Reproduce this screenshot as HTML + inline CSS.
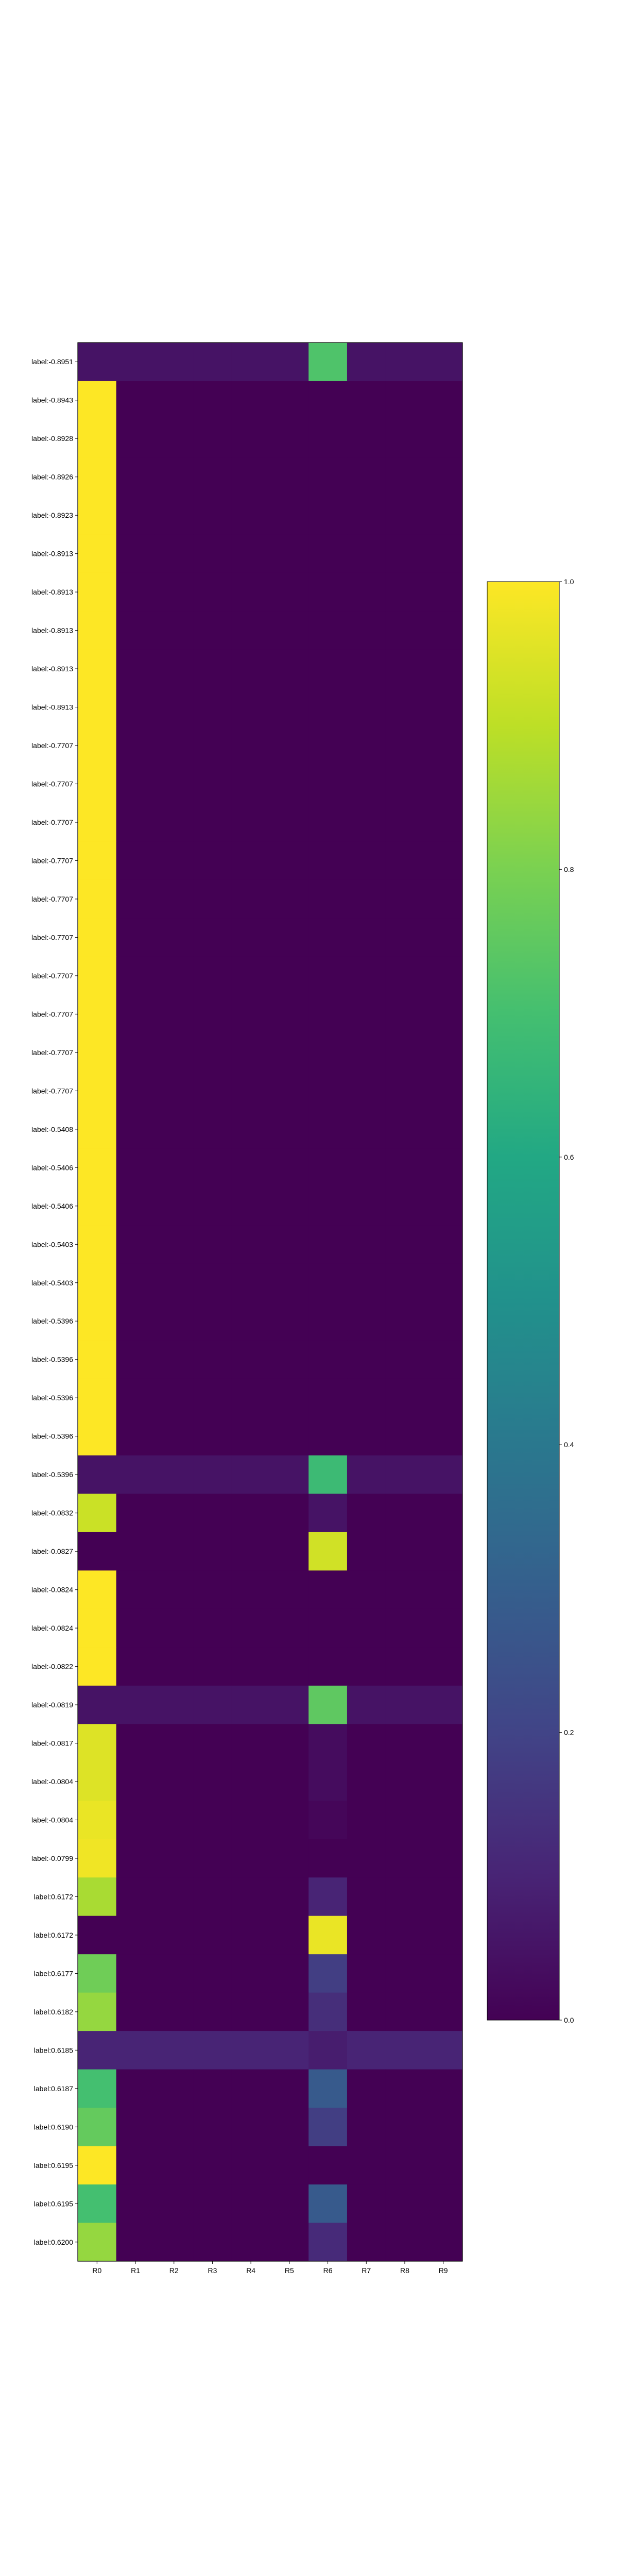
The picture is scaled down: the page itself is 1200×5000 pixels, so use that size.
<!DOCTYPE html>
<html><head><meta charset="utf-8"><style>body{margin:0;background:#fff}svg{display:block}text{font-family:"Liberation Sans","DejaVu Sans",sans-serif;font-size:14px;fill:#000}</style></head>
<body>
<svg id="chart" width="1200" height="5000" viewBox="0 0 1200 5000" xmlns="http://www.w3.org/2000/svg"></svg>
<script>
const rowLabels=["label:-0.8951","label:-0.8943","label:-0.8928","label:-0.8926","label:-0.8923","label:-0.8913","label:-0.8913","label:-0.8913","label:-0.8913","label:-0.8913",
"label:-0.7707","label:-0.7707","label:-0.7707","label:-0.7707","label:-0.7707","label:-0.7707","label:-0.7707","label:-0.7707","label:-0.7707","label:-0.7707",
"label:-0.5408","label:-0.5406","label:-0.5406","label:-0.5403","label:-0.5403","label:-0.5396","label:-0.5396","label:-0.5396","label:-0.5396","label:-0.5396",
"label:-0.0832","label:-0.0827","label:-0.0824","label:-0.0824","label:-0.0822","label:-0.0819","label:-0.0817","label:-0.0804","label:-0.0804","label:-0.0799",
"label:0.6172","label:0.6172","label:0.6177","label:0.6182","label:0.6185","label:0.6187","label:0.6190","label:0.6195","label:0.6195","label:0.6200"];
const colLabels=["R0","R1","R2","R3","R4","R5","R6","R7","R8","R9"];
const colorbarTicks=[0.0,0.2,0.4,0.6,0.8,1.0];
// per-row: R0 value, R6 value, value of the other columns
const r0Values=[0.05,1,1,1,1,1,1,1,1,1, 1,1,1,1,1,1,1,1,1,1, 1,1,1,1,1,1,1,1,1,0.05,
0.92,0,1,1,1,0.05,0.95,0.95,0.97,0.98, 0.87,0,0.78,0.84,0.1,0.7,0.76,1,0.7,0.84];
const r6Values=[0.72,0,0,0,0,0,0,0,0,0, 0,0,0,0,0,0,0,0,0,0, 0,0,0,0,0,0,0,0,0,0.68,
0.05,0.93,0,0,0,0.75,0.03,0.03,0.015,0, 0.1,0.97,0.18,0.13,0.08,0.28,0.18,0,0.28,0.12];
const restValues=[0.05,0,0,0,0,0,0,0,0,0, 0,0,0,0,0,0,0,0,0,0, 0,0,0,0,0,0,0,0,0,0.05,
0,0,0,0,0,0.05,0,0,0,0, 0,0,0,0,0.1,0,0,0,0,0];

const VIR=[[68,1,84],[72,36,117],[65,68,135],[53,95,141],[42,120,142],[33,145,140],[34,168,132],[68,191,112],[122,209,81],[189,223,38],[253,231,37]];
function viridis(v){v=Math.max(0,Math.min(1,v));const p=v*10,i=Math.min(9,Math.floor(p)),f=p-i;const a=VIR[i],b=VIR[i+1];
return `rgb(${a.map((c,k)=>Math.round(c+(b[k]-c)*f)).join(',')})`;}
const svg=document.getElementById('chart');const NS='http://www.w3.org/2000/svg';
function mk(t,at,p){const e=document.createElementNS(NS,t);for(const k in at)e.setAttribute(k,at[k]);(p||svg).appendChild(e);return e;}
const L=151,R=898,T=665,B=4389;
const cw=(R-L)/colLabels.length, rh=(B-T)/rowLabels.length;
const xPos=i=>L+i*cw, yPos=j=>T+j*rh;
const g=mk('g',{});


rowLabels.forEach((lab,j)=>{
  colLabels.forEach((c,i)=>{
    const v=i===0?r0Values[j]:(i===6?r6Values[j]:restValues[j]);
    const r=mk('rect',{x:xPos(i),y:yPos(j),width:cw+0.5,height:rh+0.5,fill:viridis(v)},g);
    
    
  });
  const yc=yPos(j)+rh/2;
  mk('line',{x1:L-5,x2:L,y1:yc,y2:yc,stroke:'#000','stroke-width':1});
  const t=mk('text',{x:L-9,y:yc+5,'text-anchor':'end'});t.textContent=lab;
  
  
});
colLabels.forEach((c,i)=>{
  const xc=xPos(i)+cw/2;
  mk('line',{x1:xc,x2:xc,y1:B,y2:B+5,stroke:'#000','stroke-width':1});
  const t=mk('text',{x:xc,y:B+23,'text-anchor':'middle'});t.textContent=c;
  
  
});
const fr=mk('rect',{x:L,y:T,width:R-L,height:B-T,fill:'none',stroke:'#000','stroke-width':1.2});


// colorbar
const CL=946,CR=1086,CT=1129,CB=3921;
const defs=mk('defs',{});const gr=mk('linearGradient',{id:'vg',x1:0,y1:1,x2:0,y2:0},defs);
for(let k=0;k<=20;k++)mk('stop',{offset:k/20,'stop-color':viridis(k/20)},gr);
const cb=mk('rect',{x:CL,y:CT,width:CR-CL,height:CB-CT,fill:'url(#vg)',stroke:'#000','stroke-width':1});


const cy=v=>CB-v*(CB-CT);
colorbarTicks.forEach(v=>{
  mk('line',{x1:CR,x2:CR+5,y1:cy(v),y2:cy(v),stroke:'#000','stroke-width':1});
  const t=mk('text',{x:CR+9,y:cy(v)+5});t.textContent=v.toFixed(1);
  
  
});
</script>
</body></html>
